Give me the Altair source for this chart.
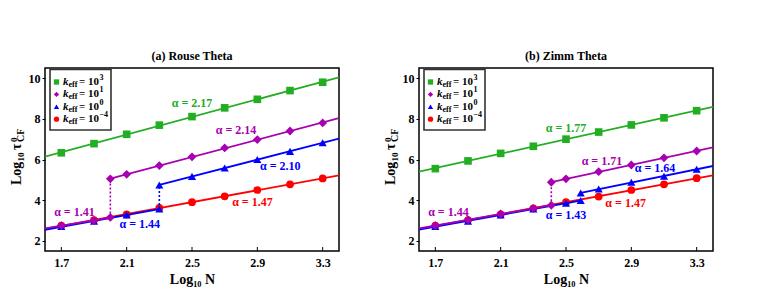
import altair as alt
import pandas as pd

FONT = "Liberation Serif"
COLORS = {"g": "#22ad22", "p": "#a800b0", "b": "#0000ff", "r": "#ff0000"}
SHAPES = {"g": "square", "p": "diamond", "b": "triangle-up", "r": "circle"}
SIZES = {"g": 58, "p": 78, "b": 66, "r": 60}

X_DOMAIN = [1.6, 3.4]
Y_DOMAIN = [1.5, 10.5]
X_TICKS = [1.7, 2.1, 2.5, 2.9, 3.3]
Y_TICKS = [2, 4, 6, 8, 10]
N_X = [1.7, 1.9, 2.1, 2.3, 2.5, 2.7, 2.9, 3.1, 3.3]

# ---------------- (a) Rouse Theta ----------------
a_green_y = [6.33, 6.78, 7.24, 7.69, 8.11, 8.54, 8.96, 9.39, 9.80]
a_red_y = [2.75, 3.02, 3.30, 3.62, 3.90, 4.19, 4.50, 4.78, 5.07]
a_purple_lo_x = [1.7, 1.9, 2.0]
a_purple_lo_y = [2.75, 3.00, 3.15]
a_purple_hi_x = [2.0, 2.1, 2.3, 2.5, 2.7, 2.9, 3.1, 3.3]
a_purple_hi_y = [5.05, 5.27, 5.70, 6.13, 6.57, 6.98, 7.40, 7.80]
a_blue_lo_x = [1.7, 1.9, 2.1, 2.3]
a_blue_lo_y = [2.70, 2.97, 3.27, 3.57]
a_blue_hi_x = [2.3, 2.5, 2.7, 2.9, 3.1, 3.3]
a_blue_hi_y = [4.75, 5.17, 5.58, 6.00, 6.40, 6.82]
a_alpha_text = ["α = 2.17", "α = 2.14", "α = 2.10", "α = 1.47", "α = 1.41", "α = 1.44"]
a_alpha_series = ["g", "p", "b", "r", "p", "b"]
a_alpha_x = [2.50, 2.77, 3.04, 2.87, 1.78, 2.18]
a_alpha_y = [8.80, 7.44, 5.67, 3.89, 3.43, 2.81]
a_dotted = ["p", "b"]

# ---------------- (b) Zimm Theta ----------------
b_green_y = [5.55, 5.93, 6.30, 6.65, 7.00, 7.35, 7.70, 8.05, 8.40]
b_red_y = [2.75, 3.02, 3.30, 3.60, 3.90, 4.18, 4.50, 4.78, 5.08]
b_purple_lo_x = [1.7, 1.9, 2.1, 2.3, 2.41]
b_purple_lo_y = [2.75, 3.03, 3.32, 3.60, 3.75]
b_purple_hi_x = [2.41, 2.5, 2.7, 2.9, 3.1, 3.3]
b_purple_hi_y = [4.88, 5.05, 5.40, 5.73, 6.08, 6.42]
b_blue_lo_x = [1.7, 1.9, 2.1, 2.3, 2.5, 2.59]
b_blue_lo_y = [2.70, 2.97, 3.27, 3.57, 3.85, 3.98]
b_blue_hi_x = [2.59, 2.7, 2.9, 3.1, 3.3]
b_blue_hi_y = [4.35, 4.55, 4.88, 5.18, 5.52]
b_alpha_text = ["α = 1.77", "α = 1.71", "α = 1.64", "α = 1.47", "α = 1.44", "α = 1.43"]
b_alpha_series = ["g", "p", "b", "r", "p", "b"]
b_alpha_x = [2.50, 2.72, 3.045, 2.865, 1.78, 2.50]
b_alpha_y = [7.55, 5.95, 5.56, 3.87, 3.43, 3.27]
b_dotted = ["p"]

LEGEND_SERIES = ["g", "p", "b", "r"]
LEGEND_EXP = ["3", "1", "0", "−4"]

W, H = 294, 183

xenc = alt.X("x:Q", scale=alt.Scale(domain=X_DOMAIN, nice=False, zero=False),
             axis=alt.Axis(values=X_TICKS, format=".1f", title="Log₁₀ N"))
yenc = alt.Y("y:Q", scale=alt.Scale(domain=Y_DOMAIN, nice=False, zero=False),
             axis=alt.Axis(values=Y_TICKS, format="d", title=None))
cenc = alt.Color("s:N", scale=alt.Scale(domain=list(COLORS.keys()), range=list(COLORS.values())),
                 legend=None)


def fit_line(xs, ys, extent, key):
    df = pd.DataFrame({"x": xs, "y": ys})
    return (alt.Chart(df)
            .transform_regression("x", "y", extent=extent)
            .mark_line(color=COLORS[key], strokeWidth=1.8, clip=True)
            .encode(x=xenc, y=yenc))


def points(xs, ys, key):
    df = pd.DataFrame({"x": xs, "y": ys})
    return (alt.Chart(df)
            .mark_point(shape=SHAPES[key], filled=True, size=SIZES[key],
                        color=COLORS[key], opacity=1)
            .encode(x=xenc, y=yenc))


def jump(x, y0, y1, key):
    df = pd.DataFrame({"x": [x], "y": [y0], "y2": [y1]})
    return (alt.Chart(df)
            .mark_rule(color=COLORS[key], strokeDash=[2, 2], strokeWidth=1.6)
            .encode(x=xenc, y=yenc, y2="y2:Q"))


def inward_ticks():
    df = pd.DataFrame({"x": X_TICKS})
    return (alt.Chart(df)
            .mark_rule(color="black", strokeWidth=1)
            .encode(x=xenc, y=alt.value(H), y2=alt.value(H - 4)))


def txt(text, x, y, size, style="normal", angle=0, align="left", baseline="middle", dy=0):
    df = pd.DataFrame({"t": [text]})
    return (alt.Chart(df)
            .mark_text(font=FONT, fontSize=size, fontWeight="bold", fontStyle=style,
                       angle=angle, align=align, baseline=baseline, dy=dy, color="black")
            .encode(x=alt.value(x), y=alt.value(y), text="t:N"))


def legend_layers():
    layers = [alt.Chart(pd.DataFrame({"a": [0]}))
              .mark_rect(fill="white", stroke="#333333", strokeWidth=1.6)
              .encode(x=alt.value(5), x2=alt.value(66), y=alt.value(1.5), y2=alt.value(62))]
    for i, (key, exp) in enumerate(zip(LEGEND_SERIES, LEGEND_EXP)):
        yy = 14 + 12.4 * i
        layers.append(alt.Chart(pd.DataFrame({"a": [0]}))
                      .mark_point(shape=SHAPES[key], filled=True, size=28,
                                  color=COLORS[key], opacity=1)
                      .encode(x=alt.value(11.5), y=alt.value(yy)))
        layers.append(txt("k", 18, yy, 11, style="italic"))
        layers.append(txt("eff", 23.5, yy, 8, dy=3))
        layers.append(txt("= 10", 34, yy, 11))
        layers.append(txt(exp, 54.5, yy, 8, dy=-4))
    return layers


def ytitle_layers():
    return [
        txt("Log", -24.5, 117, 14, angle=270, baseline="alphabetic"),
        txt("10", -21, 93.5, 9, angle=270, baseline="alphabetic"),
        txt("τ", -24.5, 82, 14, angle=270, baseline="alphabetic"),
        txt("0", -28.5, 74, 9, angle=270, baseline="alphabetic"),
        txt("CF", -21, 74, 10, angle=270, baseline="alphabetic"),
    ]


def panel(title, green_y, red_y, plo_x, plo_y, phi_x, phi_y, blo_x, blo_y, bhi_x, bhi_y,
          al_text, al_series, al_x, al_y, dotted):
    layers = [inward_ticks()]
    # red
    layers.append(fit_line(N_X, red_y, X_DOMAIN, "r"))
    layers.append(points(N_X, red_y, "r"))
    # blue
    layers.append(fit_line(blo_x, blo_y, [X_DOMAIN[0], blo_x[-1]], "b"))
    layers.append(fit_line(bhi_x, bhi_y, [bhi_x[0], X_DOMAIN[1]], "b"))
    if "b" in dotted:
        layers.append(jump(blo_x[-1], blo_y[-1], bhi_y[0], "b"))
    layers.append(points(blo_x + bhi_x, blo_y + bhi_y, "b"))
    # purple
    layers.append(fit_line(plo_x, plo_y, [X_DOMAIN[0], plo_x[-1]], "p"))
    layers.append(fit_line(phi_x, phi_y, [phi_x[0], X_DOMAIN[1]], "p"))
    if "p" in dotted:
        layers.append(jump(plo_x[-1], plo_y[-1], phi_y[0], "p"))
    layers.append(points(plo_x + phi_x, plo_y + phi_y, "p"))
    # green
    layers.append(fit_line(N_X, green_y, X_DOMAIN, "g"))
    layers.append(points(N_X, green_y, "g"))
    # alpha labels
    adf = pd.DataFrame({"t": al_text, "x": al_x, "y": al_y, "s": al_series})
    layers.append(alt.Chart(adf)
                  .mark_text(font=FONT, fontSize=12, fontWeight="bold", align="center",
                             baseline="middle")
                  .encode(x=xenc, y=yenc, text="t:N", color=cenc))
    layers += legend_layers()
    layers += ytitle_layers()
    return alt.layer(*layers).properties(
        width=W, height=H,
        title=alt.Title(title, font=FONT, fontSize=12, fontWeight="bold", color="black",
                        offset=5))


left = panel("(a) Rouse Theta", a_green_y, a_red_y, a_purple_lo_x, a_purple_lo_y,
             a_purple_hi_x, a_purple_hi_y, a_blue_lo_x, a_blue_lo_y, a_blue_hi_x, a_blue_hi_y,
             a_alpha_text, a_alpha_series, a_alpha_x, a_alpha_y, a_dotted)
right = panel("(b) Zimm Theta", b_green_y, b_red_y, b_purple_lo_x, b_purple_lo_y,
              b_purple_hi_x, b_purple_hi_y, b_blue_lo_x, b_blue_lo_y, b_blue_hi_x, b_blue_hi_y,
              b_alpha_text, b_alpha_series, b_alpha_x, b_alpha_y, b_dotted)

chart = (alt.hconcat(left, right, spacing=42)
         .properties(padding={"left": 0, "top": 41, "right": 0, "bottom": 0})
         .configure_view(stroke="black", strokeWidth=1.5)
         .configure_axis(domain=False, grid=False, labelFont=FONT, labelFontSize=12,
                         labelFontWeight="bold", labelColor="black", tickColor="black",
                         tickSize=3, titleFont=FONT, titleFontSize=14, titleFontWeight="bold",
                         titleColor="black", labelPadding=2)
         .configure_axisX(labelPadding=3, titlePadding=4, tickOpacity=0))

chart.save("out.html", embed_options={"renderer": "svg", "actions": False})
